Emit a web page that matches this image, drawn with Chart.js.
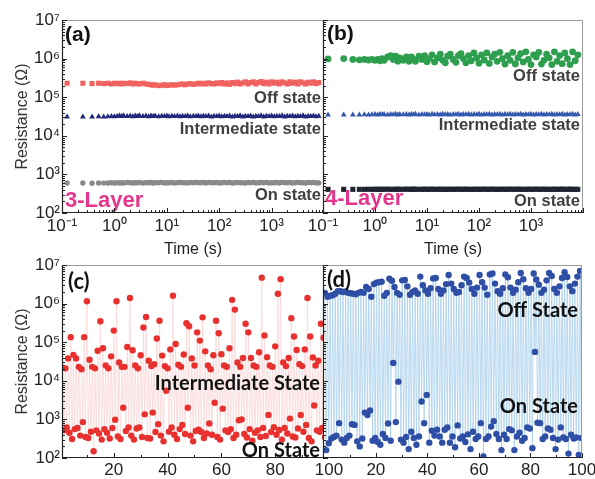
<!DOCTYPE html>
<html><head><meta charset="utf-8">
<script src="https://cdn.jsdelivr.net/npm/chart.js@4/dist/chart.umd.min.js"></script>
<style>
html,body{margin:0;padding:0;background:#fff;}
#wrap{position:relative;width:595px;height:479px;overflow:hidden;background:#fff;}
canvas{position:absolute;left:0;top:0;}
</style></head><body>
<div id="wrap">
<canvas id="ca" width="595" height="479"></canvas>
<canvas id="cb" width="595" height="479"></canvas>
<canvas id="cc" width="595" height="479"></canvas>
<canvas id="cd" width="595" height="479"></canvas>
</div>
<script>
// ---------- DATA ----------
const retentionTime = [0.125,0.25,0.375,0.5,0.625,0.75,0.875,1,1.125,1.25,
1.375,1.5,1.75,2,2.25,2.5,2.75,3,3.5,4,
4.5,5,5.5,6,7,8,9,10,11,12.5,
14,16,18,20,22.5,25,28,32,36,40,
45,50,56,63,71,80,90,100,112,126,
141,158,178,200,224,251,282,316,355,398,
447,501,562,631,708,794,891,1000,1122,1259,
1413,1585,1778,1995,2239,2512,2818,3162,3548,3981,
4467,5012,5623,6310,7079,7943];

// (a) 3-layer retention
const offStateA = [2.3e5,2.3e5,2.25e5,2.3e5,2.25e5,2.3e5,2.2e5,2.3e5,2.25e5,2.3e5,
2.2e5,2.3e5,2.25e5,2.35e5,2.2e5,2.3e5,2.25e5,2.2e5,2.3e5,2.2e5,
2.15e5,2.1e5,2.05e5,2.1e5,2.0e5,2.05e5,2.1e5,2.0e5,2.05e5,2.1e5,
2.05e5,2.1e5,2.15e5,2.2e5,2.1e5,2.2e5,2.25e5,2.15e5,2.2e5,2.3e5,
2.2e5,2.3e5,2.2e5,2.35e5,2.25e5,2.2e5,2.35e5,2.25e5,2.4e5,2.2e5,
2.35e5,2.15e5,2.4e5,2.25e5,2.45e5,2.2e5,2.35e5,2.5e5,2.2e5,2.4e5,
2.5e5,2.2e5,2.4e5,2.55e5,2.25e5,2.45e5,2.2e5,2.5e5,2.3e5,2.45e5,
2.2e5,2.5e5,2.35e5,2.2e5,2.5e5,2.3e5,2.45e5,2.2e5,2.5e5,2.35e5,
2.2e5,2.45e5,2.3e5,2.5e5,2.25e5,2.4e5];
const interStateA = [3.1e4,3.1e4,3.1e4,3.15e4,3.1e4,3.15e4,3.2e4,3.15e4,3.2e4,3.3e4,
3.2e4,3.35e4,3.2e4,3.3e4,3.15e4,3.3e4,3.2e4,3.35e4,3.2e4,3.3e4,
3.15e4,3.3e4,3.2e4,3.3e4,3.15e4,3.25e4,3.2e4,3.3e4,3.15e4,3.25e4,
3.2e4,3.3e4,3.15e4,3.25e4,3.2e4,3.3e4,3.15e4,3.25e4,3.2e4,3.3e4,
3.15e4,3.25e4,3.2e4,3.3e4,3.1e4,3.25e4,3.2e4,3.3e4,3.15e4,3.25e4,
3.2e4,3.3e4,3.1e4,3.25e4,3.2e4,3.35e4,3.1e4,3.25e4,3.2e4,3.3e4,
3.1e4,3.25e4,3.2e4,3.35e4,3.1e4,3.25e4,3.2e4,3.3e4,3.15e4,3.25e4,
3.2e4,3.35e4,3.1e4,3.25e4,3.2e4,3.3e4,3.15e4,3.25e4,3.2e4,3.35e4,
3.1e4,3.25e4,3.2e4,3.3e4,3.15e4,3.25e4];
const onStateA = [600,600,590,600,595,600,605,600,610,600,
610,600,615,605,600,610,605,615,600,610,
605,615,600,610,605,620,600,610,605,615,
600,610,620,605,610,600,615,605,620,610,
605,615,600,620,610,605,615,600,610,620,
605,615,600,610,620,605,610,600,615,605,
620,600,610,615,605,620,600,610,605,615,
600,620,605,610,615,600,610,620,605,610,
600,615,605,620,610,600];

// (b) 4-layer retention
const offStateB = [9.8e5,1.0e6,9.5e5,9.3e5,9.5e5,9.2e5,9.6e5,9.0e5,9.6e5,8.8e5,
1.0e6,9.0e5,1.1e6,1.2e6,9.5e5,1.15e6,8.6e5,1.05e6,9.0e5,1.1e6,
8.5e5,1.1e6,9.5e5,8.5e5,1.15e6,9.5e5,1.2e6,8.3e5,1.0e6,1.25e6,
8.2e5,1.05e6,1.3e6,9.0e5,7.8e5,1.15e6,1.3e6,9.5e5,8.0e5,1.2e6,
1.35e6,1.0e6,7.8e5,1.2e6,8.8e5,1.4e6,1.05e6,7.6e5,1.25e6,9.2e5,
1.4e6,7.5e5,1.1e6,1.3e6,8.5e5,1.45e6,1.0e6,7.2e5,1.2e6,9.0e5,
1.45e6,7.3e5,1.05e6,1.35e6,8.2e5,1.5e6,9.5e5,7.0e5,1.25e6,1.1e6,
1.45e6,7.2e5,9.0e5,1.3e6,1.05e6,7.0e5,1.5e6,8.5e5,1.2e6,7.4e5,
1.4e6,1.0e6,7.0e5,1.5e6,8.8e5,1.25e6];
const interStateB = [3.5e4,3.5e4,3.5e4,3.5e4,3.55e4,3.5e4,3.55e4,3.6e4,3.5e4,3.6e4,
3.55e4,3.6e4,3.5e4,3.6e4,3.55e4,3.65e4,3.5e4,3.6e4,3.55e4,3.6e4,
3.5e4,3.6e4,3.55e4,3.65e4,3.5e4,3.6e4,3.55e4,3.6e4,3.5e4,3.65e4,
3.55e4,3.6e4,3.5e4,3.65e4,3.55e4,3.6e4,3.5e4,3.6e4,3.55e4,3.65e4,
3.5e4,3.6e4,3.55e4,3.65e4,3.5e4,3.6e4,3.55e4,3.65e4,3.5e4,3.6e4,
3.55e4,3.65e4,3.5e4,3.6e4,3.55e4,3.65e4,3.5e4,3.6e4,3.55e4,3.65e4,
3.5e4,3.6e4,3.55e4,3.65e4,3.5e4,3.6e4,3.55e4,3.65e4,3.5e4,3.6e4,
3.55e4,3.65e4,3.5e4,3.6e4,3.55e4,3.65e4,3.5e4,3.6e4,3.55e4,3.65e4,
3.5e4,3.6e4,3.55e4,3.65e4,3.5e4,3.6e4];
const onStateB = [410,410,410,410,410,412,410,412,410,412,
410,412,415,410,412,410,415,410,412,415,
410,412,415,410,412,410,415,410,412,415,
410,412,415,410,412,410,415,410,412,415,
410,412,415,410,412,410,415,410,412,415,
410,412,415,410,412,410,415,410,412,415,
410,412,415,410,412,410,415,410,412,415,
410,412,415,410,412,410,415,410,412,415,
410,412,415,410,412,410];

// (c) 3-layer cycling: per cycle a high read and a low read
const cycleHighC = [2.2e4,2.1e4,3.8e4,1.35e5,4.7e4,3.8e4,2.3e4,2.0e4,1.35e5,1.15e6,
3.5e4,2.3e4,2.1e4,6.0e4,3.5e5,7.0e4,2.5e4,2.1e4,4.3e4,2.0e5,
1.15e6,3.0e4,2.3e4,2.3e4,7.5e4,1.4e6,6.2e4,2.5e4,2.1e4,4.6e4,
2.4e5,4.5e5,3.3e4,2.4e4,2.7e4,1.25e5,3.6e5,4.5e4,2.4e4,2.1e4,
6.5e4,1.6e6,9.0e4,2.6e4,2.3e4,4.8e4,3.1e5,2.6e5,3.8e4,2.5e4,
1.8e5,1.1e5,4.4e5,5.8e4,2.5e4,2.0e4,4.6e4,3.6e5,1.7e5,4.9e4,
2.5e4,2.3e4,7.0e4,1.25e6,7.0e5,3.0e4,2.3e4,3.9e4,3.0e5,1.8e5,
3.9e4,2.5e4,2.3e4,5.5e4,4.7e6,1.5e5,4.1e4,2.5e4,2.3e4,7.8e4,
1.8e6,4.3e6,3.0e4,2.4e4,3.9e4,4.2e5,1.4e5,6.3e4,2.7e4,2.4e4,
6.5e4,1.4e6,1.4e5,4.0e4,2.5e4,3.3e4,3.0e5,1.3e5,2.5e4,5.6e4];
const cycleLowC = [520,620,450,310,560,600,380,850,350,330,
480,150,520,430,300,560,450,320,600,980,
360,310,2000,500,620,380,300,580,620,350,
1350,330,320,1500,470,750,380,270,5500,480,
620,400,310,560,720,420,2000,380,270,500,
540,470,330,430,780,400,2700,350,300,1900,
520,470,560,330,400,950,1000,420,340,560,
280,450,520,350,600,370,1300,470,630,400,
530,300,600,430,1050,360,340,580,1300,480,
720,330,270,2300,520,480,600,350,540,420];

// (d) 4-layer cycling: off and on reads per cycle
const cycleOffD = [1.9e6,1.5e6,1.6e6,1.65e6,1.8e6,2.1e6,2.1e6,2.0e6,2.05e6,1.9e6,
1.85e6,1.8e6,1.75e6,1.9e6,2.0e6,1.9e6,2.7e6,2.4e6,1.5e6,3.2e6,
3.5e6,3.6e6,3.7e6,1.6e6,1.9e6,4.4e6,3.9e6,2.7e6,1.9e6,1.7e6,
4.0e6,4.1e6,2.8e6,1.7e6,2.0e6,2.2e6,1.8e6,5.0e6,3.0e6,2.2e6,
1.8e6,2.5e6,4.5e6,4.6e6,2.4e6,1.8e6,2.2e6,3.2e6,5.5e6,3.3e6,
2.4e6,1.9e6,2.0e6,3.0e6,5.0e6,4.6e6,3.5e6,2.4e6,1.8e6,2.6e6,
5.5e6,3.6e6,2.6e6,1.7e6,5.7e6,6.0e6,3.3e6,2.1e6,1.8e6,2.5e6,
5.7e6,4.8e6,2.6e6,1.9e6,2.3e6,3.6e6,6.2e6,4.3e6,2.5e6,1.9e6,
2.4e6,6.0e6,4.2e6,3.1e6,1.9e6,2.3e6,4.0e6,6.2e6,5.2e6,2.4e6,
1.9e6,2.8e6,4.6e6,6.5e6,4.9e6,2.8e6,2.1e6,3.3e6,5.0e6,7.0e6];
const cycleOnD = [160,240,320,350,380,800,300,250,330,380,
750,720,270,200,320,1500,1300,1700,280,330,
260,220,420,330,780,280,29000,850,9500,300,
250,350,170,480,330,220,360,2900,800,4300,
250,510,380,540,360,250,540,620,250,360,
190,700,320,360,260,410,170,480,310,360,
800,110,310,360,650,900,420,310,160,400,
310,560,520,160,360,450,280,330,620,580,
180,56000,820,800,310,360,580,540,330,170,
300,620,340,310,130,400,320,340,120,330];

// tick values / labels
const timeTickValues = [0.1,1,10,100,1000,10000];
const timeTickLabels = ['10\u207B\u00B9','10\u2070','10\u00B9','10\u00B2','10\u00B3',''];
const resTickValues = [1e2,1e3,1e4,1e5,1e6,1e7];
const resTickLabels = ['10\u00B2','10\u00B3','10\u2074','10\u2075','10\u2076','10\u2077'];
const cycleTickValues = [20,40,60,80,100];
const cycleTickLabels = ['20','40','60','80','100'];

// ---------- HELPERS ----------
Chart.defaults.font.family = "'Liberation Sans', Arial, sans-serif";
Chart.defaults.color = '#222';

const pairs = (xs, ys) => xs.map((x, i) => ({x: x, y: ys[i]}));
function interleave(first, second, d1, d2) {
  const out = [];
  first.forEach((v, i) => { out.push({x: i + d1, y: v}); out.push({x: i + d2, y: second[i]}); });
  return out;
}
function logMinor(lo, hi) { const r = []; for (let e = lo; e < hi; e++) for (let k = 2; k <= 9; k++) r.push(k * Math.pow(10, e)); return r; }

function makePanel(id, p) {
  const framePlugin = {
    id: 'frame_' + id,
    beforeDraw(chart) {
      if (!p.fillArea) return;
      const a = chart.chartArea, ctx = chart.ctx;
      ctx.save(); ctx.fillStyle = '#fff';
      ctx.fillRect(a.left, a.top, a.right - a.left, a.bottom - a.top);
      ctx.restore();
    },
    afterDraw(chart) {
      const ctx = chart.ctx, a = chart.chartArea, xs = chart.scales.x, ys = chart.scales.y;
      ctx.save();
      ctx.lineWidth = 1;
      ctx.strokeStyle = '#9a9a9a';
      ctx.beginPath();
      ctx.moveTo(a.left, a.top + 0.5); ctx.lineTo(a.right - 0.5, a.top + 0.5); ctx.lineTo(a.right - 0.5, a.bottom);
      ctx.stroke();
      ctx.strokeStyle = '#222';
      ctx.lineWidth = 1.2;
      ctx.beginPath();
      ctx.moveTo(a.left + 0.5, a.top); ctx.lineTo(a.left + 0.5, a.bottom - 0.5); ctx.lineTo(a.right, a.bottom - 0.5);
      ctx.stroke();
      ctx.lineWidth = 1;
      const tick = (vals, len, horiz) => {
        ctx.beginPath();
        vals.forEach(v => {
          if (horiz) {
            const px = Math.round(xs.getPixelForValue(v)) + 0.5;
            if (px < a.left - 0.5 || px > a.right + 0.5) return;
            ctx.moveTo(px, a.bottom); ctx.lineTo(px, a.bottom - len);
          } else {
            const py = Math.round(ys.getPixelForValue(v)) + 0.5;
            if (py < a.top - 0.5 || py > a.bottom + 0.5) return;
            ctx.moveTo(a.left, py); ctx.lineTo(a.left + len, py);
          }
        });
        ctx.stroke();
      };
      tick(p.xMajor, 5, true); tick(p.xMinor, 3, true);
      tick(resTickValues, 5, false); tick(logMinor(2, 7), 3, false);
      ctx.restore();
    }
  };
  const textPlugin = {
    id: 'text_' + id,
    afterDatasetsDraw(chart) {
      const ctx = chart.ctx, a = chart.chartArea, ys = chart.scales.y;
      p.texts.forEach(t => {
        ctx.save();
        ctx.font = t.font; ctx.fillStyle = t.color;
        ctx.textAlign = t.align; ctx.textBaseline = 'middle';
        const x = t.align === 'right' ? a.right - t.inset : a.left + t.inset;
        const y = (t.value !== undefined) ? ys.getPixelForValue(t.value) : a.top + t.fromTop;
        ctx.fillText(t.text, x, y);
        ctx.restore();
      });
    }
  };
  return new Chart(document.getElementById(id), {
    type: 'scatter',
    data: {datasets: p.datasets},
    options: {
      responsive: false, animation: false, devicePixelRatio: 1, events: [],
      layout: {padding: p.padding},
      plugins: {legend: {display: false}, tooltip: {enabled: false}},
      scales: {
        x: {
          type: p.xType, min: p.xMin, max: p.xMax, position: 'bottom',
          grid: {display: false, drawTicks: false}, border: {display: false},
          afterBuildTicks: s => { s.ticks = p.xMajor.map(v => ({value: v})); },
          ticks: {autoSkip: false, maxRotation: 0, minRotation: 0, padding: p.xTickPad,
                  font: {size: 17}, color: '#222', callback: (v, i) => p.xLabels[i]},
          title: p.xTitle ? {display: true, text: p.xTitle, font: {size: 16}, color: '#222', padding: {top: 0, bottom: 0}} : {display: false},
          afterFit: s => { s.height = p.xHeight; s.paddingLeft = 0; s.paddingRight = 0; s.paddingTop = 0; s.paddingBottom = 0; }
        },
        y: {
          type: 'logarithmic', min: 1e2, max: 1e7, position: 'left',
          grid: {display: false, drawTicks: false}, border: {display: false},
          afterBuildTicks: s => { s.ticks = resTickValues.map(v => ({value: v})); },
          ticks: {display: p.yLabels, autoSkip: false, padding: 2, font: {size: 17}, color: '#222',
                  callback: (v, i) => resTickLabels[i]},
          title: p.yLabels ? {display: true, text: 'Resistance (\u03A9)', font: {size: 16}, color: '#333', padding: {top: 13, bottom: 0}} : {display: false},
          afterFit: s => { s.width = p.yWidth; s.paddingLeft = 0; s.paddingRight = 0; s.paddingTop = 0; s.paddingBottom = 0; }
        }
      }
    },
    plugins: [framePlugin, textPlugin]
  });
}

const labelFont = "bold 16.5px 'Liberation Sans', Arial, sans-serif";
const letterFont = "bold 21px 'Liberation Sans', Arial, sans-serif";
const layerFont = "bold 22px 'Liberation Sans', Arial, sans-serif";
const calFont = "bold 20px Lato, 'Open Sans', sans-serif";
const calLetter = "bold 22px Lato, 'Open Sans', sans-serif";
const pink = '#E6358C', darkText = '#404040';

// (a)
makePanel('ca', {
  padding: {left: 0, top: 20, right: 271, bottom: 220},
  xType: 'logarithmic', xMin: 0.1, xMax: 1e4, xMajor: timeTickValues, xMinor: logMinor(-1, 4),
  xLabels: timeTickLabels, xTickPad: 3, xHeight: 46, xTitle: 'Time (s)',
  yLabels: true, yWidth: 62, fillArea: false,
  datasets: [
    {data: pairs(retentionTime, offStateA), pointStyle: 'rect', pointRadius: 3.6, pointBorderWidth: 0, backgroundColor: '#F0625F', borderColor: '#F0625F'},
    {data: pairs(retentionTime, interStateA), pointStyle: 'triangle', pointRadius: 3.4, pointBorderWidth: 0, backgroundColor: '#1F2A7A', borderColor: '#1F2A7A'},
    {data: pairs(retentionTime, onStateA), pointStyle: 'circle', pointRadius: 2.7, pointBorderWidth: 0, backgroundColor: '#8A8A8A', borderColor: '#8A8A8A'}
  ],
  texts: [
    {text: '(a)', font: letterFont, color: '#111', align: 'left', inset: 3, fromTop: 15},
    {text: 'Off state', font: labelFont, color: darkText, align: 'right', inset: 3, value: 9.5e4},
    {text: 'Intermediate state', font: labelFont, color: darkText, align: 'right', inset: 3, value: 1.5e4},
    {text: 'On state', font: labelFont, color: darkText, align: 'right', inset: 3, value: 2.9e2},
    {text: '3-Layer', font: layerFont, color: pink, align: 'left', inset: 3, value: 2.0e2}
  ]
});

// (b)
makePanel('cb', {
  padding: {left: 323, top: 20, right: 12, bottom: 220},
  xType: 'logarithmic', xMin: 0.1, xMax: 1e4, xMajor: timeTickValues, xMinor: logMinor(-1, 4),
  xLabels: timeTickLabels, xTickPad: 3, xHeight: 46, xTitle: 'Time (s)',
  yLabels: false, yWidth: 0, fillArea: true,
  datasets: [
    {data: pairs(retentionTime, offStateB), pointStyle: 'circle', pointRadius: 3.4, pointBorderWidth: 0, backgroundColor: '#2E9E4F', borderColor: '#2E9E4F'},
    {data: pairs(retentionTime, interStateB), pointStyle: 'triangle', pointRadius: 3.4, pointBorderWidth: 0, backgroundColor: '#3558B0', borderColor: '#3558B0'},
    {data: pairs(retentionTime, onStateB), pointStyle: 'rect', pointRadius: 3.6, pointBorderWidth: 0, backgroundColor: '#1E2430', borderColor: '#1E2430'}
  ],
  texts: [
    {text: '(b)', font: letterFont, color: '#111', align: 'left', inset: 4, fromTop: 14},
    {text: 'Off state', font: labelFont, color: darkText, align: 'right', inset: 3, value: 3.5e5},
    {text: 'Intermediate state', font: labelFont, color: darkText, align: 'right', inset: 3, value: 1.8e4},
    {text: 'On state', font: labelFont, color: darkText, align: 'right', inset: 3, value: 2.0e2},
    {text: '4-Layer', font: layerFont, color: pink, align: 'left', inset: 2, value: 2.3e2}
  ]
});

// (c)
makePanel('cc', {
  padding: {left: 0, top: 265, right: 266, bottom: 0},
  xType: 'linear', xMin: 0.75, xMax: 100, xMajor: cycleTickValues, xMinor: [10, 30, 50, 70, 90],
  xLabels: cycleTickLabels, xTickPad: 2, xHeight: 21, xTitle: null,
  yLabels: true, yWidth: 62, fillArea: false,
  datasets: [
    {data: interleave(cycleHighC, cycleLowC, 1, 1.5), showLine: true, borderColor: '#F9D2D2', borderWidth: 0.7,
     pointStyle: 'circle', pointRadius: 3.2, pointBorderWidth: 0, backgroundColor: '#E8312F'}
  ],
  texts: [
    {text: '(c)', font: calLetter, color: '#111', align: 'left', inset: 6, fromTop: 17},
    {text: 'Intermediate State', font: calFont, color: '#111', align: 'right', inset: 9, value: 8.3e3},
    {text: 'On State', font: calFont, color: '#111', align: 'right', inset: 9, value: 1.6e2}
  ]
});

// (d)
makePanel('cd', {
  padding: {left: 323, top: 265, right: 13, bottom: 0},
  xType: 'linear', xMin: -0.5, xMax: 100, xMajor: cycleTickValues, xMinor: [10, 30, 50, 70, 90],
  xLabels: cycleTickLabels, xTickPad: 2, xHeight: 21, xTitle: null,
  yLabels: false, yWidth: 0, fillArea: true,
  datasets: [
    {data: interleave(cycleOffD, cycleOnD, 0.25, 0.75), showLine: true, borderColor: '#A9CFEC', borderWidth: 0.8,
     pointStyle: 'circle', pointRadius: 3.2, pointBorderWidth: 0, backgroundColor: '#2F4EA5'}
  ],
  texts: [
    {text: '(d)', font: calLetter, color: '#111', align: 'left', inset: 4, fromTop: 15},
    {text: 'Off State', font: calFont, color: '#111', align: 'right', inset: 4, value: 6.5e5},
    {text: 'On State', font: calFont, color: '#111', align: 'right', inset: 4, value: 2.1e3}
  ]
});
</script>
</body></html>
